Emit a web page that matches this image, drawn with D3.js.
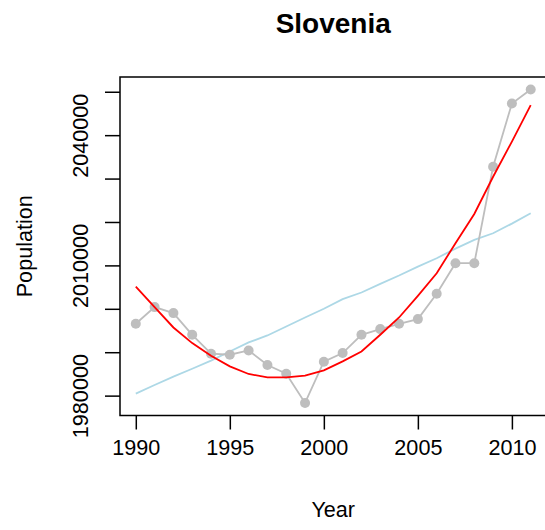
<!DOCTYPE html>
<html>
<head>
<meta charset="utf-8">
<script src="https://cdn.jsdelivr.net/npm/d3@7"></script>
<style>
  body { margin: 0; background: #fff; }
  svg text { font-family: "Liberation Sans", Arial, sans-serif; fill: #000; }
  .title { font-weight: bold; font-size: 28px; }
  .tick text { font-size: 21.6px; }
  .axislabel { font-size: 21.6px; }
</style>
</head>
<body>
<div id="plot"></div>
<script>
// values
var years = [1990, 1991, 1992, 1993, 1994, 1995, 1996, 1997, 1998, 1999, 2000,
             2001, 2002, 2003, 2004, 2005, 2006, 2007, 2008, 2009, 2010, 2011];

var population = [1996550, 2000390, 1999010, 1994020, 1989650, 1989420, 1990410, 1987060,
                  1985060, 1978310, 1987820, 1989810, 1994020, 1995320, 1996550, 1997630,
                  2003450, 2010510, 2010510, 2032720, 2047290, 2050510];

// light blue trend
var trend = [1980460, 1982460, 1984370, 1986200, 1988050, 1990180, 1992250, 1993860,
             1995930, 1998000, 2000000, 2002220, 2003750, 2005750, 2007660, 2009730,
             2011650, 2013860, 2015860, 2017400, 2019620, 2022000];

// red fitted curve
var fitted = [2005130, 2000390, 1995700, 1992100, 1989200, 1986740, 1984990, 1984210,
              1984210, 1984600, 1985820, 1987890, 1990180, 1994020, 1998000, 2002990,
              2008200, 2015100, 2021840, 2030420, 2038500, 2046900];

var xTicks = [1990, 1995, 2000, 2005, 2010];
var yTicks = [1980000, 1990000, 2000000, 2010000, 2020000, 2030000, 2040000, 2050000];
var yLabels = [1980000, 2010000, 2040000];

var W = 545, H = 530;
var plot = {left: 120, top: 77, right: 546.5, bottom: 415.5};

var svg = d3.select("#plot").append("svg")
    .attr("width", W)
    .attr("height", H);

// scales, padded 4% like R
var xr = [d3.min(years), d3.max(years)];
var xpad = (xr[1] - xr[0]) * 0.04;
var xscale = d3.scaleLinear()
    .domain([xr[0] - xpad, xr[1] + xpad])
    .range([plot.left, plot.right]);

var allY = population.concat(trend, fitted);
var yr = [d3.min(allY), d3.max(allY)];
var ypad = (yr[1] - yr[0]) * 0.04;
var yscale = d3.scaleLinear()
    .domain([yr[0] - ypad, yr[1] + ypad])
    .range([plot.bottom, plot.top]);

// title
svg.append("text")
    .attr("class", "title")
    .attr("x", (plot.left + plot.right) / 2)
    .attr("y", 33)
    .attr("text-anchor", "middle")
    .text("Slovenia");

// x axis
var xAxis = d3.axisBottom(xscale)
    .tickValues(xTicks)
    .tickFormat(d3.format("d"))
    .tickSize(14)
    .tickPadding(10);

var gx = svg.append("g")
    .attr("transform", `translate(0,${plot.bottom})`)
    .call(xAxis);
gx.select(".domain").remove();
gx.selectAll(".tick line").attr("stroke", "#000").attr("stroke-width", 1.5);

// y axis, R drops the labels that would overlap
var yAxis = d3.axisLeft(yscale)
    .tickValues(yTicks)
    .tickFormat(d => yLabels.indexOf(d) >= 0 ? d3.format("d")(d) : "")
    .tickSize(15)
    .tickPadding(0);

var gy = svg.append("g")
    .attr("transform", `translate(${plot.left},0)`)
    .call(yAxis);
gy.select(".domain").remove();
gy.selectAll(".tick line").attr("stroke", "#000").attr("stroke-width", 1.5);
gy.selectAll(".tick text")
    .attr("x", 0)
    .attr("dy", 0)
    .attr("text-anchor", "middle")
    .attr("transform", "translate(-32,0) rotate(-90)");

// axis labels
svg.append("text")
    .attr("class", "axislabel")
    .attr("x", (plot.left + plot.right) / 2)
    .attr("y", 517)
    .attr("text-anchor", "middle")
    .text("Year");

svg.append("text")
    .attr("class", "axislabel")
    .attr("text-anchor", "middle")
    .attr("transform", `translate(32,${(plot.top + plot.bottom) / 2}) rotate(-90)`)
    .text("Population");

// lines
var line = d3.line()
    .x((d, i) => xscale(years[i]))
    .y(d => yscale(d));

svg.append("path")
    .attr("d", line(trend))
    .attr("fill", "none")
    .attr("stroke", "#add8e6")
    .attr("stroke-width", 1.8);

svg.append("path")
    .attr("d", line(population))
    .attr("fill", "none")
    .attr("stroke", "#bebebe")
    .attr("stroke-width", 1.8);

svg.selectAll("circle.pt")
    .data(population)
    .join("circle")
    .attr("class", "pt")
    .attr("cx", (d, i) => xscale(years[i]))
    .attr("cy", d => yscale(d))
    .attr("r", 5)
    .attr("fill", "#bebebe");

svg.append("path")
    .attr("d", line(fitted))
    .attr("fill", "none")
    .attr("stroke", "#ff0000")
    .attr("stroke-width", 1.8);

// frame
svg.append("rect")
    .attr("x", plot.left)
    .attr("y", plot.top)
    .attr("width", plot.right - plot.left)
    .attr("height", plot.bottom - plot.top)
    .attr("fill", "none")
    .attr("stroke", "#000")
    .attr("stroke-width", 1.5);
</script>
</body>
</html>
